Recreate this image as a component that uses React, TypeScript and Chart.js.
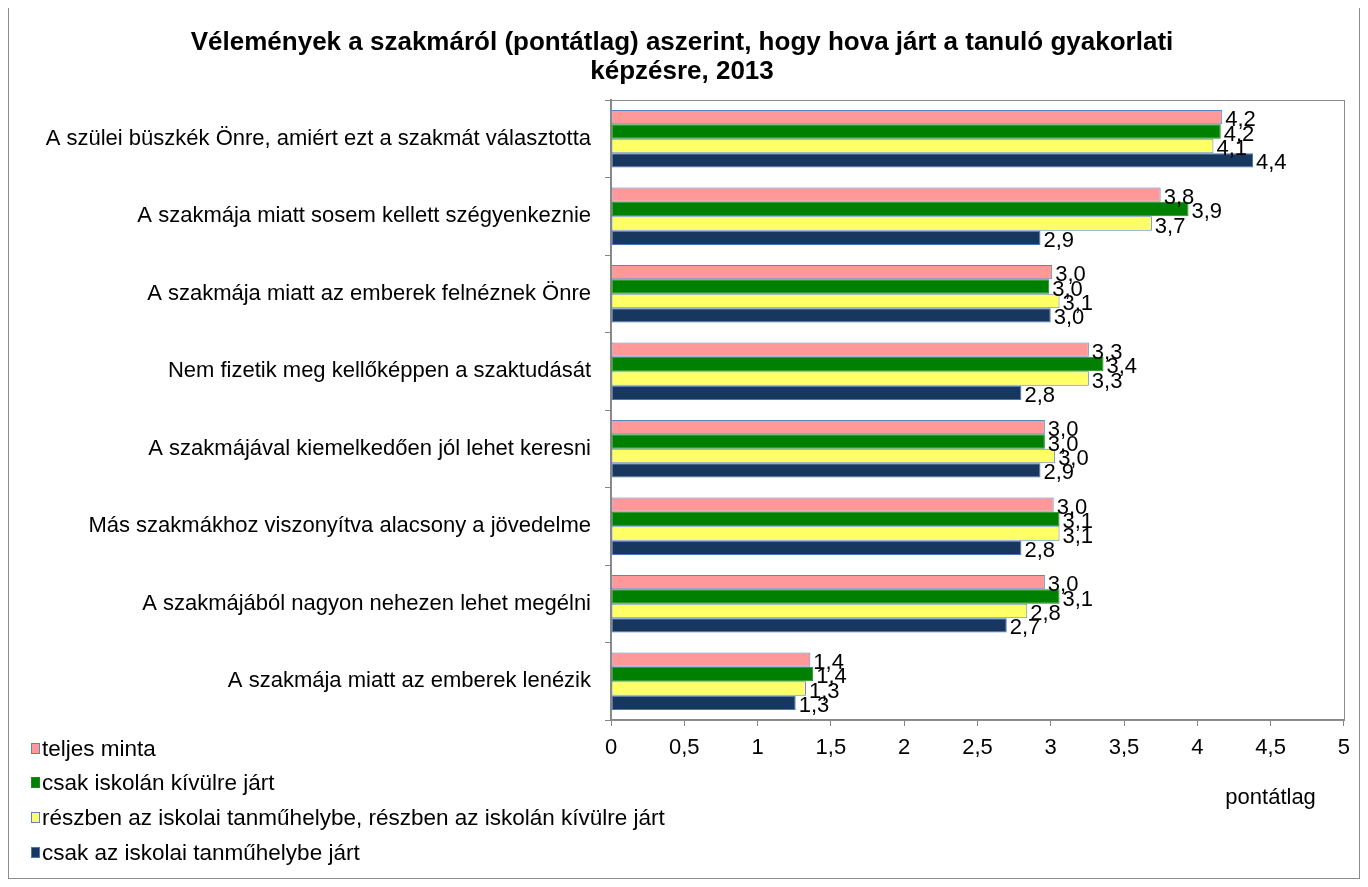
import React, { useEffect, useRef } from 'react';
import { Chart, registerables } from 'chart.js';

Chart.register(...registerables);

const titleLines = [
  'Vélemények a szakmáról (pontátlag) aszerint, hogy hova járt a tanuló gyakorlati',
  'képzésre, 2013',
];

const categories = [
  'A szülei büszkék Önre, amiért ezt a szakmát választotta',
  'A szakmája miatt sosem kellett szégyenkeznie',
  'A szakmája miatt az emberek felnéznek Önre',
  'Nem fizetik meg kellőképpen a szaktudását',
  'A szakmájával kiemelkedően jól lehet keresni',
  'Más szakmákhoz viszonyítva alacsony a jövedelme',
  'A szakmájából nagyon nehezen lehet megélni',
  'A szakmája miatt az emberek lenézik',
];

const seriesNames = [
  'teljes minta',
  'csak iskolán kívülre járt',
  'részben az iskolai tanműhelybe, részben az iskolán kívülre járt',
  'csak az iskolai tanműhelybe járt',
];

const teljesMinta = [4.17, 3.75, 3.01, 3.26, 2.96, 3.02, 2.96, 1.36];
const csakKivulre = [4.16, 3.94, 2.99, 3.36, 2.96, 3.06, 3.06, 1.38];
const reszben = [4.11, 3.69, 3.06, 3.26, 3.03, 3.06, 2.84, 1.33];
const csakTanmuhely = [4.38, 2.93, 3.0, 2.8, 2.93, 2.8, 2.7, 1.26];

const xMin = 0;
const xMax = 5;
const xStep = 0.5;
const xAxisTitle = 'pontátlag';

const seriesValues = [teljesMinta, csakKivulre, reszben, csakTanmuhely];
const fillColors = ['#FF9999', '#008000', '#FFFF66', '#17375E'];
const borderColors = ['#5B84C4', '#1E8A1E', '#5B84C4', '#4A76B4'];

const FONT = '"Liberation Sans", Arial, sans-serif';
const fmt = (v: number) => v.toFixed(1).replace('.', ',');

const extrasPlugin = {
  id: 'extras',
  beforeDraw(chart: any) {
    const ctx = chart.ctx;
    ctx.save();
    ctx.fillStyle = '#ffffff';
    ctx.fillRect(0, 0, chart.width, chart.height);
    ctx.restore();
  },
  beforeDatasetsDraw(chart: any) {
    const { ctx, chartArea } = chart;
    ctx.save();
    ctx.strokeStyle = '#8C8C8C';
    ctx.lineWidth = 1;
    ctx.strokeRect(
      Math.round(chartArea.left) + 0.5,
      Math.round(chartArea.top) + 0.5,
      Math.round(chartArea.right - chartArea.left),
      Math.round(chartArea.bottom - chartArea.top)
    );
    ctx.restore();
  },
  afterDatasetsDraw(chart: any) {
    const ctx = chart.ctx;
    ctx.save();
    ctx.font = `22px ${FONT}`;
    ctx.fillStyle = '#000000';
    ctx.textAlign = 'left';
    ctx.textBaseline = 'middle';
    chart.data.datasets.forEach((ds: any, i: number) => {
      const meta = chart.getDatasetMeta(i);
      meta.data.forEach((el: any, j: number) => {
        ctx.fillText(fmt(ds.data[j]), el.x + 3, el.y + 3);
      });
    });
    ctx.restore();
  },
  afterDraw(chart: any) {
    const ctx = chart.ctx;
    ctx.save();
    ctx.fillStyle = '#000000';
    ctx.textAlign = 'center';
    ctx.textBaseline = 'middle';
    ctx.font = `bold 26px ${FONT}`;
    ctx.fillText(titleLines[0], 673, 37);
    ctx.fillText(titleLines[1], 673, 66);

    ctx.font = `22px ${FONT}`;
    const xs = chart.scales.x;
    ctx.fillText(xAxisTitle, xs.getPixelForValue(4.5), 792);

    ctx.textAlign = 'left';
    ctx.font = `22.5px ${FONT}`;
    const ys = [742, 776, 811, 846];
    chart.data.datasets.forEach((ds: any, i: number) => {
      const y = ys[i];
      ctx.fillStyle = ds.backgroundColor;
      ctx.fillRect(22, y - 5, 9, 11);
      ctx.strokeStyle = ds.borderColor;
      ctx.lineWidth = 1;
      ctx.strokeRect(22.5, y - 4.5, 8, 10);
      ctx.fillStyle = '#000000';
      ctx.fillText(ds.label, 33, y + 1.5);
    });
    ctx.restore();
  },
};

export default function App() {
  const ref = useRef<HTMLCanvasElement | null>(null);

  useEffect(() => {
    if (!ref.current) return;
    const chart = new Chart(ref.current, {
      type: 'bar',
      data: {
        labels: categories,
        datasets: seriesValues.map((vals, i) => ({
          label: seriesNames[i],
          data: vals,
          backgroundColor: fillColors[i],
          borderColor: borderColors[i],
          borderWidth: 1,
          borderSkipped: false,
          categoryPercentage: 0.745,
          barPercentage: 1.0,
        })),
      },
      options: {
        indexAxis: 'y',
        responsive: false,
        animation: false,
        events: [],
        layout: { padding: { top: 94, right: 2, left: 0, bottom: 0 } },
        plugins: {
          legend: { display: false },
          title: { display: false },
          tooltip: { enabled: false },
        },
        scales: {
          x: {
            min: xMin,
            max: xMax,
            ticks: {
              stepSize: xStep,
              color: '#000000',
              font: { family: FONT, size: 22 },
              padding: 9,
              maxRotation: 0,
              callback: (v: any) => String(v).replace('.', ','),
            },
            grid: {
              display: true,
              drawOnChartArea: false,
              drawTicks: true,
              tickLength: 6,
              color: '#868686',
            },
            border: { display: true, color: '#868686', width: 2 },
            afterFit: (scale: any) => {
              scale.height = 158;
            },
          },
          y: {
            ticks: {
              color: '#000000',
              font: { family: FONT, size: 22 },
              padding: 14,
              autoSkip: false,
            },
            grid: {
              display: true,
              drawOnChartArea: false,
              drawTicks: true,
              tickLength: 6,
              offset: true,
              color: '#868686',
            },
            border: { display: true, color: '#868686', width: 2 },
            afterFit: (scale: any) => {
              scale.width = 602;
            },
          },
        },
      },
      plugins: [extrasPlugin],
    } as any);
    return () => chart.destroy();
  }, []);

  return (
    <div
      style={{
        width: 1352,
        height: 874,
        marginTop: -3,
        border: '1px solid #8C8C8C',
        boxSizing: 'border-box',
        background: '#ffffff',
      }}
    >
      <canvas ref={ref} width={1350} height={872} style={{ display: 'block' }} />
    </div>
  );
}
